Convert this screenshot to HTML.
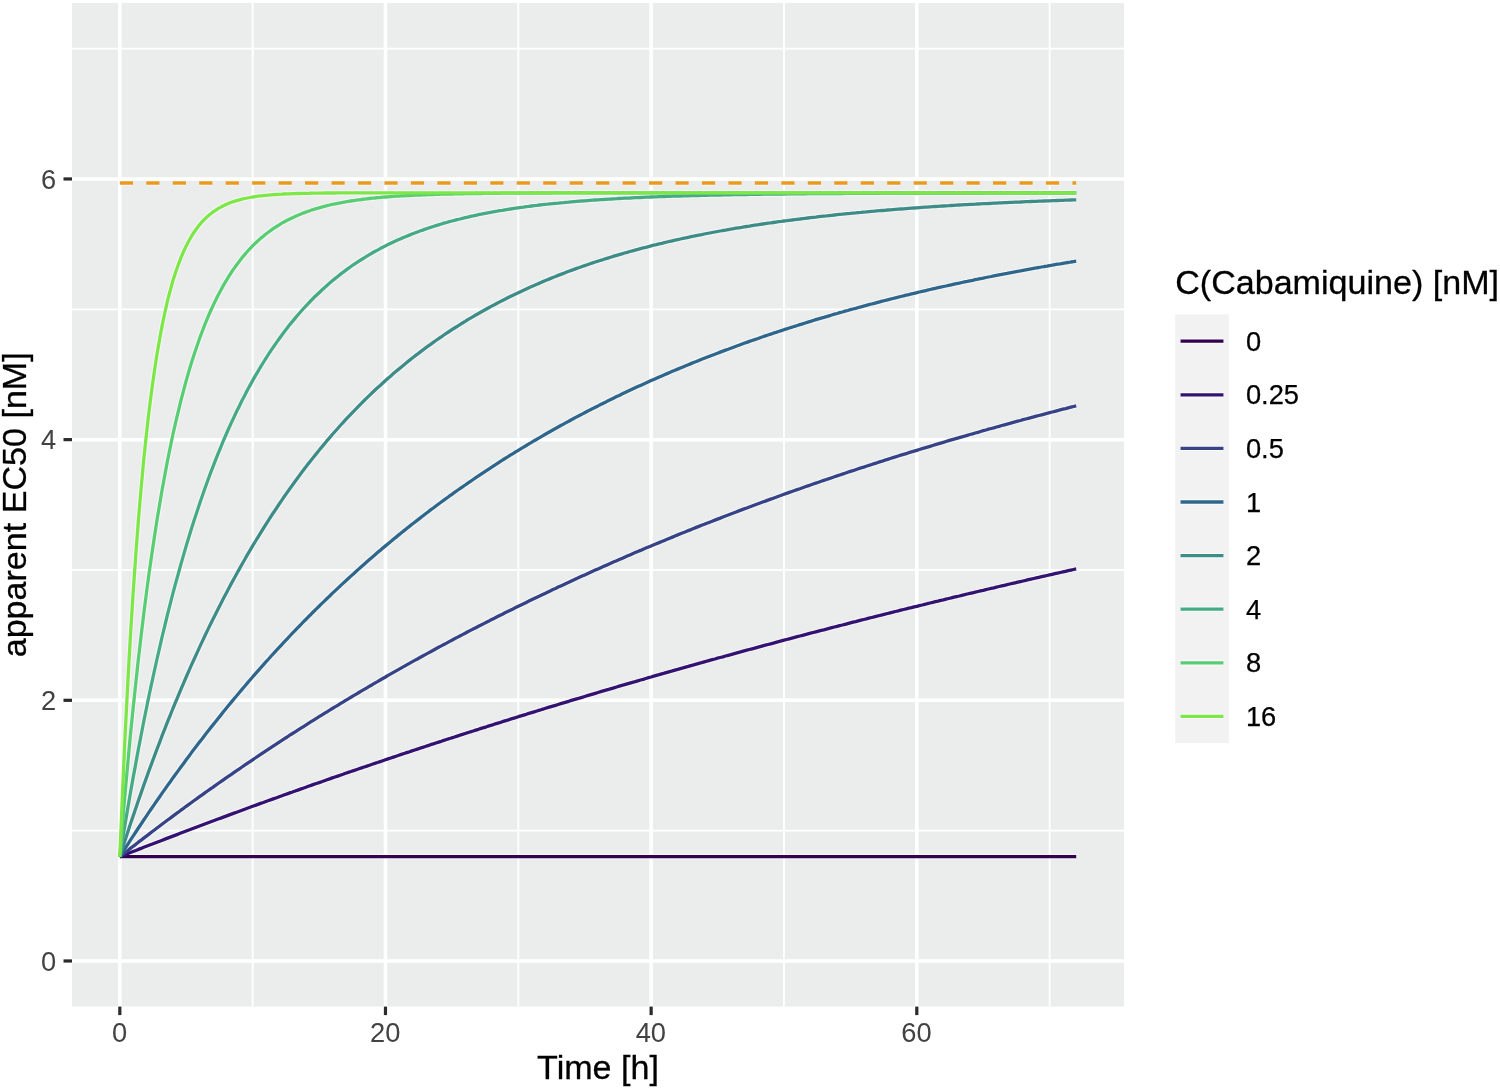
<!DOCTYPE html>
<html lang="en"><head><meta charset="utf-8"><title>apparent EC50 over time</title>
<style>html,body{margin:0;padding:0;background:#fff}body{width:1500px;height:1088px;overflow:hidden}svg{display:block}text{font-family:"Liberation Sans",sans-serif}</style>
</head><body>
<svg width="1500" height="1088" viewBox="0 0 1500 1088">
<rect x="0" y="0" width="1500" height="1088" fill="#ffffff"/>
<rect x="72.0" y="3.0" width="1052.0" height="1003.6" fill="#EBEDEC"/>
<g stroke="#ffffff" stroke-width="1.8" fill="none">
<line x1="72.0" x2="1124.0" y1="830.64" y2="830.64"/>
<line x1="72.0" x2="1124.0" y1="569.97" y2="569.97"/>
<line x1="72.0" x2="1124.0" y1="309.29" y2="309.29"/>
<line x1="72.0" x2="1124.0" y1="48.62" y2="48.62"/>
<line y1="3.0" y2="1006.6" x1="252.65" x2="252.65"/>
<line y1="3.0" y2="1006.6" x1="518.30" x2="518.30"/>
<line y1="3.0" y2="1006.6" x1="783.96" x2="783.96"/>
<line y1="3.0" y2="1006.6" x1="1049.62" x2="1049.62"/>
</g>
<g stroke="#ffffff" stroke-width="3.5" fill="none">
<line x1="72.0" x2="1124.0" y1="960.98" y2="960.98"/>
<line x1="72.0" x2="1124.0" y1="700.31" y2="700.31"/>
<line x1="72.0" x2="1124.0" y1="439.63" y2="439.63"/>
<line x1="72.0" x2="1124.0" y1="178.96" y2="178.96"/>
<line y1="3.0" y2="1006.6" x1="119.82" x2="119.82"/>
<line y1="3.0" y2="1006.6" x1="385.47" x2="385.47"/>
<line y1="3.0" y2="1006.6" x1="651.13" x2="651.13"/>
<line y1="3.0" y2="1006.6" x1="916.79" x2="916.79"/>
</g>
<line x1="119.82" x2="1076.18" y1="183.0" y2="183.0" stroke="#ffffff" stroke-opacity="0.55" stroke-width="5.5" stroke-dasharray="13.23 13.23"/>
<line x1="119.82" x2="1076.18" y1="183.0" y2="183.0" stroke="#EC9A1E" stroke-width="3.5" stroke-dasharray="13.23 13.23"/>
<defs>
<polyline id="c0" points="119.8,856.7 1076.2,856.7"/>
<polyline id="c1" points="119.8,856.7 122.5,855.7 125.1,854.6 127.8,853.6 130.4,852.5 133.1,851.5 135.8,850.5 138.4,849.4 141.1,848.4 143.7,847.3 146.4,846.3 149.0,845.3 151.7,844.3 154.4,843.2 157.0,842.2 159.7,841.2 162.3,840.2 165.0,839.1 167.6,838.1 170.3,837.1 172.9,836.1 175.6,835.1 178.3,834.1 180.9,833.0 183.6,832.0 186.2,831.0 188.9,830.0 191.5,829.0 194.2,828.0 196.9,827.0 199.5,826.0 202.2,825.0 204.8,824.0 207.5,823.0 210.1,822.0 212.8,821.0 215.5,820.0 218.1,819.0 220.8,818.1 223.4,817.1 226.1,816.1 228.7,815.1 231.4,814.1 234.1,813.1 236.7,812.2 239.4,811.2 242.0,810.2 244.7,809.2 247.3,808.3 250.0,807.3 252.6,806.3 255.3,805.4 258.0,804.4 260.6,803.4 263.3,802.5 265.9,801.5 268.6,800.5 271.2,799.6 273.9,798.6 276.6,797.7 279.2,796.7 281.9,795.8 284.5,794.8 287.2,793.9 289.8,792.9 292.5,792.0 295.2,791.0 297.8,790.1 300.5,789.1 303.1,788.2 305.8,787.3 308.4,786.3 311.1,785.4 313.7,784.4 316.4,783.5 319.1,782.6 321.7,781.7 324.4,780.7 327.0,779.8 329.7,778.9 332.3,777.9 335.0,777.0 337.7,776.1 340.3,775.2 343.0,774.3 345.6,773.3 348.3,772.4 350.9,771.5 353.6,770.6 356.3,769.7 358.9,768.8 361.6,767.9 364.2,767.0 366.9,766.1 369.5,765.2 372.2,764.3 374.8,763.4 377.5,762.5 380.2,761.6 382.8,760.7 385.5,759.8 388.1,758.9 390.8,758.0 393.4,757.1 396.1,756.2 398.8,755.3 401.4,754.4 404.1,753.5 406.7,752.6 409.4,751.8 412.0,750.9 414.7,750.0 417.4,749.1 420.0,748.2 422.7,747.4 425.3,746.5 428.0,745.6 430.6,744.7 433.3,743.9 435.9,743.0 438.6,742.1 441.3,741.3 443.9,740.4 446.6,739.5 449.2,738.7 451.9,737.8 454.5,737.0 457.2,736.1 459.9,735.2 462.5,734.4 465.2,733.5 467.8,732.7 470.5,731.8 473.1,731.0 475.8,730.1 478.5,729.3 481.1,728.4 483.8,727.6 486.4,726.8 489.1,725.9 491.7,725.1 494.4,724.2 497.1,723.4 499.7,722.6 502.4,721.7 505.0,720.9 507.7,720.1 510.3,719.2 513.0,718.4 515.6,717.6 518.3,716.7 521.0,715.9 523.6,715.1 526.3,714.3 528.9,713.4 531.6,712.6 534.2,711.8 536.9,711.0 539.6,710.2 542.2,709.3 544.9,708.5 547.5,707.7 550.2,706.9 552.8,706.1 555.5,705.3 558.2,704.5 560.8,703.7 563.5,702.9 566.1,702.1 568.8,701.3 571.4,700.4 574.1,699.6 576.7,698.8 579.4,698.1 582.1,697.3 584.7,696.5 587.4,695.7 590.0,694.9 592.7,694.1 595.3,693.3 598.0,692.5 600.7,691.7 603.3,690.9 606.0,690.1 608.6,689.4 611.3,688.6 613.9,687.8 616.6,687.0 619.3,686.2 621.9,685.4 624.6,684.7 627.2,683.9 629.9,683.1 632.5,682.3 635.2,681.6 637.8,680.8 640.5,680.0 643.2,679.3 645.8,678.5 648.5,677.7 651.1,677.0 653.8,676.2 656.4,675.4 659.1,674.7 661.8,673.9 664.4,673.2 667.1,672.4 669.7,671.6 672.4,670.9 675.0,670.1 677.7,669.4 680.4,668.6 683.0,667.9 685.7,667.1 688.3,666.4 691.0,665.6 693.6,664.9 696.3,664.1 698.9,663.4 701.6,662.7 704.3,661.9 706.9,661.2 709.6,660.4 712.2,659.7 714.9,659.0 717.5,658.2 720.2,657.5 722.9,656.8 725.5,656.0 728.2,655.3 730.8,654.6 733.5,653.8 736.1,653.1 738.8,652.4 741.5,651.7 744.1,650.9 746.8,650.2 749.4,649.5 752.1,648.8 754.7,648.1 757.4,647.3 760.1,646.6 762.7,645.9 765.4,645.2 768.0,644.5 770.7,643.8 773.3,643.1 776.0,642.3 778.6,641.6 781.3,640.9 784.0,640.2 786.6,639.5 789.3,638.8 791.9,638.1 794.6,637.4 797.2,636.7 799.9,636.0 802.6,635.3 805.2,634.6 807.9,633.9 810.5,633.2 813.2,632.5 815.8,631.8 818.5,631.1 821.2,630.4 823.8,629.8 826.5,629.1 829.1,628.4 831.8,627.7 834.4,627.0 837.1,626.3 839.7,625.6 842.4,625.0 845.1,624.3 847.7,623.6 850.4,622.9 853.0,622.2 855.7,621.6 858.3,620.9 861.0,620.2 863.7,619.5 866.3,618.9 869.0,618.2 871.6,617.5 874.3,616.8 876.9,616.2 879.6,615.5 882.3,614.8 884.9,614.2 887.6,613.5 890.2,612.8 892.9,612.2 895.5,611.5 898.2,610.9 900.8,610.2 903.5,609.5 906.2,608.9 908.8,608.2 911.5,607.6 914.1,606.9 916.8,606.3 919.4,605.6 922.1,605.0 924.8,604.3 927.4,603.7 930.1,603.0 932.7,602.4 935.4,601.7 938.0,601.1 940.7,600.4 943.4,599.8 946.0,599.1 948.7,598.5 951.3,597.9 954.0,597.2 956.6,596.6 959.3,596.0 961.9,595.3 964.6,594.7 967.3,594.0 969.9,593.4 972.6,592.8 975.2,592.2 977.9,591.5 980.5,590.9 983.2,590.3 985.9,589.6 988.5,589.0 991.2,588.4 993.8,587.8 996.5,587.1 999.1,586.5 1001.8,585.9 1004.5,585.3 1007.1,584.7 1009.8,584.0 1012.4,583.4 1015.1,582.8 1017.7,582.2 1020.4,581.6 1023.1,581.0 1025.7,580.4 1028.4,579.7 1031.0,579.1 1033.7,578.5 1036.3,577.9 1039.0,577.3 1041.6,576.7 1044.3,576.1 1047.0,575.5 1049.6,574.9 1052.3,574.3 1054.9,573.7 1057.6,573.1 1060.2,572.5 1062.9,571.9 1065.6,571.3 1068.2,570.7 1070.9,570.1 1073.5,569.5 1076.2,568.9"/>
<polyline id="c2" points="119.8,856.7 122.5,854.6 125.1,852.5 127.8,850.5 130.4,848.4 133.1,846.3 135.8,844.3 138.4,842.2 141.1,840.2 143.7,838.1 146.4,836.1 149.0,834.1 151.7,832.0 154.4,830.0 157.0,828.0 159.7,826.0 162.3,824.0 165.0,822.0 167.6,820.0 170.3,818.1 172.9,816.1 175.6,814.1 178.3,812.2 180.9,810.2 183.6,808.3 186.2,806.3 188.9,804.4 191.5,802.5 194.2,800.5 196.9,798.6 199.5,796.7 202.2,794.8 204.8,792.9 207.5,791.0 210.1,789.1 212.8,787.3 215.5,785.4 218.1,783.5 220.8,781.7 223.4,779.8 226.1,777.9 228.7,776.1 231.4,774.3 234.1,772.4 236.7,770.6 239.4,768.8 242.0,767.0 244.7,765.2 247.3,763.4 250.0,761.6 252.6,759.8 255.3,758.0 258.0,756.2 260.6,754.4 263.3,752.6 265.9,750.9 268.6,749.1 271.2,747.4 273.9,745.6 276.6,743.9 279.2,742.1 281.9,740.4 284.5,738.7 287.2,737.0 289.8,735.2 292.5,733.5 295.2,731.8 297.8,730.1 300.5,728.4 303.1,726.8 305.8,725.1 308.4,723.4 311.1,721.7 313.7,720.1 316.4,718.4 319.1,716.7 321.7,715.1 324.4,713.4 327.0,711.8 329.7,710.2 332.3,708.5 335.0,706.9 337.7,705.3 340.3,703.7 343.0,702.1 345.6,700.4 348.3,698.8 350.9,697.3 353.6,695.7 356.3,694.1 358.9,692.5 361.6,690.9 364.2,689.4 366.9,687.8 369.5,686.2 372.2,684.7 374.8,683.1 377.5,681.6 380.2,680.0 382.8,678.5 385.5,677.0 388.1,675.4 390.8,673.9 393.4,672.4 396.1,670.9 398.8,669.4 401.4,667.9 404.1,666.4 406.7,664.9 409.4,663.4 412.0,661.9 414.7,660.4 417.4,659.0 420.0,657.5 422.7,656.0 425.3,654.6 428.0,653.1 430.6,651.7 433.3,650.2 435.9,648.8 438.6,647.3 441.3,645.9 443.9,644.5 446.6,643.1 449.2,641.6 451.9,640.2 454.5,638.8 457.2,637.4 459.9,636.0 462.5,634.6 465.2,633.2 467.8,631.8 470.5,630.4 473.1,629.1 475.8,627.7 478.5,626.3 481.1,625.0 483.8,623.6 486.4,622.2 489.1,620.9 491.7,619.5 494.4,618.2 497.1,616.8 499.7,615.5 502.4,614.2 505.0,612.8 507.7,611.5 510.3,610.2 513.0,608.9 515.6,607.6 518.3,606.3 521.0,605.0 523.6,603.7 526.3,602.4 528.9,601.1 531.6,599.8 534.2,598.5 536.9,597.2 539.6,596.0 542.2,594.7 544.9,593.4 547.5,592.2 550.2,590.9 552.8,589.6 555.5,588.4 558.2,587.1 560.8,585.9 563.5,584.7 566.1,583.4 568.8,582.2 571.4,581.0 574.1,579.7 576.7,578.5 579.4,577.3 582.1,576.1 584.7,574.9 587.4,573.7 590.0,572.5 592.7,571.3 595.3,570.1 598.0,568.9 600.7,567.7 603.3,566.5 606.0,565.4 608.6,564.2 611.3,563.0 613.9,561.8 616.6,560.7 619.3,559.5 621.9,558.4 624.6,557.2 627.2,556.1 629.9,554.9 632.5,553.8 635.2,552.6 637.8,551.5 640.5,550.4 643.2,549.2 645.8,548.1 648.5,547.0 651.1,545.9 653.8,544.8 656.4,543.7 659.1,542.6 661.8,541.5 664.4,540.4 667.1,539.3 669.7,538.2 672.4,537.1 675.0,536.0 677.7,534.9 680.4,533.8 683.0,532.8 685.7,531.7 688.3,530.6 691.0,529.6 693.6,528.5 696.3,527.4 698.9,526.4 701.6,525.3 704.3,524.3 706.9,523.2 709.6,522.2 712.2,521.2 714.9,520.1 717.5,519.1 720.2,518.1 722.9,517.0 725.5,516.0 728.2,515.0 730.8,514.0 733.5,513.0 736.1,512.0 738.8,510.9 741.5,509.9 744.1,508.9 746.8,508.0 749.4,507.0 752.1,506.0 754.7,505.0 757.4,504.0 760.1,503.0 762.7,502.0 765.4,501.1 768.0,500.1 770.7,499.1 773.3,498.2 776.0,497.2 778.6,496.2 781.3,495.3 784.0,494.3 786.6,493.4 789.3,492.4 791.9,491.5 794.6,490.5 797.2,489.6 799.9,488.7 802.6,487.7 805.2,486.8 807.9,485.9 810.5,485.0 813.2,484.0 815.8,483.1 818.5,482.2 821.2,481.3 823.8,480.4 826.5,479.5 829.1,478.6 831.8,477.7 834.4,476.8 837.1,475.9 839.7,475.0 842.4,474.1 845.1,473.2 847.7,472.3 850.4,471.4 853.0,470.6 855.7,469.7 858.3,468.8 861.0,467.9 863.7,467.1 866.3,466.2 869.0,465.3 871.6,464.5 874.3,463.6 876.9,462.8 879.6,461.9 882.3,461.1 884.9,460.2 887.6,459.4 890.2,458.5 892.9,457.7 895.5,456.9 898.2,456.0 900.8,455.2 903.5,454.4 906.2,453.6 908.8,452.7 911.5,451.9 914.1,451.1 916.8,450.3 919.4,449.5 922.1,448.7 924.8,447.9 927.4,447.1 930.1,446.3 932.7,445.5 935.4,444.7 938.0,443.9 940.7,443.1 943.4,442.3 946.0,441.5 948.7,440.7 951.3,439.9 954.0,439.2 956.6,438.4 959.3,437.6 961.9,436.8 964.6,436.1 967.3,435.3 969.9,434.5 972.6,433.8 975.2,433.0 977.9,432.3 980.5,431.5 983.2,430.7 985.9,430.0 988.5,429.2 991.2,428.5 993.8,427.8 996.5,427.0 999.1,426.3 1001.8,425.5 1004.5,424.8 1007.1,424.1 1009.8,423.4 1012.4,422.6 1015.1,421.9 1017.7,421.2 1020.4,420.5 1023.1,419.7 1025.7,419.0 1028.4,418.3 1031.0,417.6 1033.7,416.9 1036.3,416.2 1039.0,415.5 1041.6,414.8 1044.3,414.1 1047.0,413.4 1049.6,412.7 1052.3,412.0 1054.9,411.3 1057.6,410.6 1060.2,409.9 1062.9,409.2 1065.6,408.6 1068.2,407.9 1070.9,407.2 1073.5,406.5 1076.2,405.9"/>
<polyline id="c3" points="119.8,856.7 122.5,852.5 125.1,848.4 127.8,844.3 130.4,840.2 133.1,836.1 135.8,832.0 138.4,828.0 141.1,824.0 143.7,820.0 146.4,816.1 149.0,812.2 151.7,808.3 154.4,804.4 157.0,800.5 159.7,796.7 162.3,792.9 165.0,789.1 167.6,785.4 170.3,781.7 172.9,777.9 175.6,774.3 178.3,770.6 180.9,767.0 183.6,763.4 186.2,759.8 188.9,756.2 191.5,752.6 194.2,749.1 196.9,745.6 199.5,742.1 202.2,738.7 204.8,735.2 207.5,731.8 210.1,728.4 212.8,725.1 215.5,721.7 218.1,718.4 220.8,715.1 223.4,711.8 226.1,708.5 228.7,705.3 231.4,702.1 234.1,698.8 236.7,695.7 239.4,692.5 242.0,689.4 244.7,686.2 247.3,683.1 250.0,680.0 252.6,677.0 255.3,673.9 258.0,670.9 260.6,667.9 263.3,664.9 265.9,661.9 268.6,659.0 271.2,656.0 273.9,653.1 276.6,650.2 279.2,647.3 281.9,644.5 284.5,641.6 287.2,638.8 289.8,636.0 292.5,633.2 295.2,630.4 297.8,627.7 300.5,625.0 303.1,622.2 305.8,619.5 308.4,616.8 311.1,614.2 313.7,611.5 316.4,608.9 319.1,606.3 321.7,603.7 324.4,601.1 327.0,598.5 329.7,596.0 332.3,593.4 335.0,590.9 337.7,588.4 340.3,585.9 343.0,583.4 345.6,581.0 348.3,578.5 350.9,576.1 353.6,573.7 356.3,571.3 358.9,568.9 361.6,566.5 364.2,564.2 366.9,561.8 369.5,559.5 372.2,557.2 374.8,554.9 377.5,552.6 380.2,550.4 382.8,548.1 385.5,545.9 388.1,543.7 390.8,541.5 393.4,539.3 396.1,537.1 398.8,534.9 401.4,532.8 404.1,530.6 406.7,528.5 409.4,526.4 412.0,524.3 414.7,522.2 417.4,520.1 420.0,518.1 422.7,516.0 425.3,514.0 428.0,512.0 430.6,509.9 433.3,508.0 435.9,506.0 438.6,504.0 441.3,502.0 443.9,500.1 446.6,498.2 449.2,496.2 451.9,494.3 454.5,492.4 457.2,490.5 459.9,488.7 462.5,486.8 465.2,485.0 467.8,483.1 470.5,481.3 473.1,479.5 475.8,477.7 478.5,475.9 481.1,474.1 483.8,472.3 486.4,470.6 489.1,468.8 491.7,467.1 494.4,465.3 497.1,463.6 499.7,461.9 502.4,460.2 505.0,458.5 507.7,456.9 510.3,455.2 513.0,453.6 515.6,451.9 518.3,450.3 521.0,448.7 523.6,447.1 526.3,445.5 528.9,443.9 531.6,442.3 534.2,440.7 536.9,439.2 539.6,437.6 542.2,436.1 544.9,434.5 547.5,433.0 550.2,431.5 552.8,430.0 555.5,428.5 558.2,427.0 560.8,425.5 563.5,424.1 566.1,422.6 568.8,421.2 571.4,419.7 574.1,418.3 576.7,416.9 579.4,415.5 582.1,414.1 584.7,412.7 587.4,411.3 590.0,409.9 592.7,408.6 595.3,407.2 598.0,405.9 600.7,404.5 603.3,403.2 606.0,401.9 608.6,400.5 611.3,399.2 613.9,397.9 616.6,396.6 619.3,395.4 621.9,394.1 624.6,392.8 627.2,391.6 629.9,390.3 632.5,389.1 635.2,387.8 637.8,386.6 640.5,385.4 643.2,384.2 645.8,383.0 648.5,381.8 651.1,380.6 653.8,379.4 656.4,378.2 659.1,377.1 661.8,375.9 664.4,374.7 667.1,373.6 669.7,372.5 672.4,371.3 675.0,370.2 677.7,369.1 680.4,368.0 683.0,366.9 685.7,365.8 688.3,364.7 691.0,363.6 693.6,362.5 696.3,361.5 698.9,360.4 701.6,359.3 704.3,358.3 706.9,357.3 709.6,356.2 712.2,355.2 714.9,354.2 717.5,353.2 720.2,352.1 722.9,351.1 725.5,350.1 728.2,349.2 730.8,348.2 733.5,347.2 736.1,346.2 738.8,345.3 741.5,344.3 744.1,343.3 746.8,342.4 749.4,341.4 752.1,340.5 754.7,339.6 757.4,338.7 760.1,337.7 762.7,336.8 765.4,335.9 768.0,335.0 770.7,334.1 773.3,333.2 776.0,332.4 778.6,331.5 781.3,330.6 784.0,329.7 786.6,328.9 789.3,328.0 791.9,327.2 794.6,326.3 797.2,325.5 799.9,324.6 802.6,323.8 805.2,323.0 807.9,322.2 810.5,321.4 813.2,320.5 815.8,319.7 818.5,318.9 821.2,318.1 823.8,317.4 826.5,316.6 829.1,315.8 831.8,315.0 834.4,314.2 837.1,313.5 839.7,312.7 842.4,312.0 845.1,311.2 847.7,310.5 850.4,309.7 853.0,309.0 855.7,308.3 858.3,307.5 861.0,306.8 863.7,306.1 866.3,305.4 869.0,304.7 871.6,304.0 874.3,303.3 876.9,302.6 879.6,301.9 882.3,301.2 884.9,300.5 887.6,299.8 890.2,299.2 892.9,298.5 895.5,297.8 898.2,297.2 900.8,296.5 903.5,295.9 906.2,295.2 908.8,294.6 911.5,293.9 914.1,293.3 916.8,292.7 919.4,292.0 922.1,291.4 924.8,290.8 927.4,290.2 930.1,289.5 932.7,288.9 935.4,288.3 938.0,287.7 940.7,287.1 943.4,286.5 946.0,286.0 948.7,285.4 951.3,284.8 954.0,284.2 956.6,283.6 959.3,283.1 961.9,282.5 964.6,281.9 967.3,281.4 969.9,280.8 972.6,280.3 975.2,279.7 977.9,279.2 980.5,278.6 983.2,278.1 985.9,277.5 988.5,277.0 991.2,276.5 993.8,275.9 996.5,275.4 999.1,274.9 1001.8,274.4 1004.5,273.9 1007.1,273.4 1009.8,272.8 1012.4,272.3 1015.1,271.8 1017.7,271.3 1020.4,270.9 1023.1,270.4 1025.7,269.9 1028.4,269.4 1031.0,268.9 1033.7,268.4 1036.3,267.9 1039.0,267.5 1041.6,267.0 1044.3,266.5 1047.0,266.1 1049.6,265.6 1052.3,265.2 1054.9,264.7 1057.6,264.2 1060.2,263.8 1062.9,263.3 1065.6,262.9 1068.2,262.5 1070.9,262.0 1073.5,261.6 1076.2,261.2"/>
<polyline id="c4" points="119.8,856.7 122.5,848.4 125.1,840.2 127.8,832.0 130.4,824.0 133.1,816.1 135.8,808.3 138.4,800.5 141.1,792.9 143.7,785.4 146.4,777.9 149.0,770.6 151.7,763.4 154.4,756.2 157.0,749.1 159.7,742.1 162.3,735.2 165.0,728.4 167.6,721.7 170.3,715.1 172.9,708.5 175.6,702.1 178.3,695.7 180.9,689.4 183.6,683.1 186.2,677.0 188.9,670.9 191.5,664.9 194.2,659.0 196.9,653.1 199.5,647.3 202.2,641.6 204.8,636.0 207.5,630.4 210.1,625.0 212.8,619.5 215.5,614.2 218.1,608.9 220.8,603.7 223.4,598.5 226.1,593.4 228.7,588.4 231.4,583.4 234.1,578.5 236.7,573.7 239.4,568.9 242.0,564.2 244.7,559.5 247.3,554.9 250.0,550.4 252.6,545.9 255.3,541.5 258.0,537.1 260.6,532.8 263.3,528.5 265.9,524.3 268.6,520.1 271.2,516.0 273.9,512.0 276.6,508.0 279.2,504.0 281.9,500.1 284.5,496.2 287.2,492.4 289.8,488.7 292.5,485.0 295.2,481.3 297.8,477.7 300.5,474.1 303.1,470.6 305.8,467.1 308.4,463.6 311.1,460.2 313.7,456.9 316.4,453.6 319.1,450.3 321.7,447.1 324.4,443.9 327.0,440.7 329.7,437.6 332.3,434.5 335.0,431.5 337.7,428.5 340.3,425.5 343.0,422.6 345.6,419.7 348.3,416.9 350.9,414.1 353.6,411.3 356.3,408.6 358.9,405.9 361.6,403.2 364.2,400.5 366.9,397.9 369.5,395.4 372.2,392.8 374.8,390.3 377.5,387.8 380.2,385.4 382.8,383.0 385.5,380.6 388.1,378.2 390.8,375.9 393.4,373.6 396.1,371.3 398.8,369.1 401.4,366.9 404.1,364.7 406.7,362.5 409.4,360.4 412.0,358.3 414.7,356.2 417.4,354.2 420.0,352.1 422.7,350.1 425.3,348.2 428.0,346.2 430.6,344.3 433.3,342.4 435.9,340.5 438.6,338.7 441.3,336.8 443.9,335.0 446.6,333.2 449.2,331.5 451.9,329.7 454.5,328.0 457.2,326.3 459.9,324.6 462.5,323.0 465.2,321.4 467.8,319.7 470.5,318.1 473.1,316.6 475.8,315.0 478.5,313.5 481.1,312.0 483.8,310.5 486.4,309.0 489.1,307.5 491.7,306.1 494.4,304.7 497.1,303.3 499.7,301.9 502.4,300.5 505.0,299.2 507.7,297.8 510.3,296.5 513.0,295.2 515.6,293.9 518.3,292.7 521.0,291.4 523.6,290.2 526.3,288.9 528.9,287.7 531.6,286.5 534.2,285.4 536.9,284.2 539.6,283.1 542.2,281.9 544.9,280.8 547.5,279.7 550.2,278.6 552.8,277.5 555.5,276.5 558.2,275.4 560.8,274.4 563.5,273.4 566.1,272.3 568.8,271.3 571.4,270.4 574.1,269.4 576.7,268.4 579.4,267.5 582.1,266.5 584.7,265.6 587.4,264.7 590.0,263.8 592.7,262.9 595.3,262.0 598.0,261.2 600.7,260.3 603.3,259.5 606.0,258.6 608.6,257.8 611.3,257.0 613.9,256.2 616.6,255.4 619.3,254.6 621.9,253.8 624.6,253.0 627.2,252.3 629.9,251.5 632.5,250.8 635.2,250.1 637.8,249.4 640.5,248.6 643.2,247.9 645.8,247.3 648.5,246.6 651.1,245.9 653.8,245.2 656.4,244.6 659.1,243.9 661.8,243.3 664.4,242.6 667.1,242.0 669.7,241.4 672.4,240.8 675.0,240.2 677.7,239.6 680.4,239.0 683.0,238.4 685.7,237.9 688.3,237.3 691.0,236.7 693.6,236.2 696.3,235.6 698.9,235.1 701.6,234.6 704.3,234.0 706.9,233.5 709.6,233.0 712.2,232.5 714.9,232.0 717.5,231.5 720.2,231.0 722.9,230.5 725.5,230.1 728.2,229.6 730.8,229.1 733.5,228.7 736.1,228.2 738.8,227.8 741.5,227.4 744.1,226.9 746.8,226.5 749.4,226.1 752.1,225.6 754.7,225.2 757.4,224.8 760.1,224.4 762.7,224.0 765.4,223.6 768.0,223.2 770.7,222.9 773.3,222.5 776.0,222.1 778.6,221.7 781.3,221.4 784.0,221.0 786.6,220.7 789.3,220.3 791.9,220.0 794.6,219.6 797.2,219.3 799.9,219.0 802.6,218.6 805.2,218.3 807.9,218.0 810.5,217.7 813.2,217.4 815.8,217.1 818.5,216.7 821.2,216.4 823.8,216.1 826.5,215.9 829.1,215.6 831.8,215.3 834.4,215.0 837.1,214.7 839.7,214.4 842.4,214.2 845.1,213.9 847.7,213.6 850.4,213.4 853.0,213.1 855.7,212.9 858.3,212.6 861.0,212.4 863.7,212.1 866.3,211.9 869.0,211.6 871.6,211.4 874.3,211.2 876.9,210.9 879.6,210.7 882.3,210.5 884.9,210.3 887.6,210.0 890.2,209.8 892.9,209.6 895.5,209.4 898.2,209.2 900.8,209.0 903.5,208.8 906.2,208.6 908.8,208.4 911.5,208.2 914.1,208.0 916.8,207.8 919.4,207.6 922.1,207.4 924.8,207.2 927.4,207.1 930.1,206.9 932.7,206.7 935.4,206.5 938.0,206.4 940.7,206.2 943.4,206.0 946.0,205.8 948.7,205.7 951.3,205.5 954.0,205.4 956.6,205.2 959.3,205.0 961.9,204.9 964.6,204.7 967.3,204.6 969.9,204.4 972.6,204.3 975.2,204.2 977.9,204.0 980.5,203.9 983.2,203.7 985.9,203.6 988.5,203.5 991.2,203.3 993.8,203.2 996.5,203.1 999.1,202.9 1001.8,202.8 1004.5,202.7 1007.1,202.6 1009.8,202.4 1012.4,202.3 1015.1,202.2 1017.7,202.1 1020.4,202.0 1023.1,201.8 1025.7,201.7 1028.4,201.6 1031.0,201.5 1033.7,201.4 1036.3,201.3 1039.0,201.2 1041.6,201.1 1044.3,201.0 1047.0,200.9 1049.6,200.8 1052.3,200.7 1054.9,200.6 1057.6,200.5 1060.2,200.4 1062.9,200.3 1065.6,200.2 1068.2,200.1 1070.9,200.0 1073.5,199.9 1076.2,199.8"/>
<polyline id="c5" points="119.8,856.7 122.5,840.2 125.1,824.0 127.8,808.3 130.4,792.9 133.1,777.9 135.8,763.4 138.4,749.1 141.1,735.2 143.7,721.7 146.4,708.5 149.0,695.7 151.7,683.1 154.4,670.9 157.0,659.0 159.7,647.3 162.3,636.0 165.0,625.0 167.6,614.2 170.3,603.7 172.9,593.4 175.6,583.4 178.3,573.7 180.9,564.2 183.6,554.9 186.2,545.9 188.9,537.1 191.5,528.5 194.2,520.1 196.9,512.0 199.5,504.0 202.2,496.2 204.8,488.7 207.5,481.3 210.1,474.1 212.8,467.1 215.5,460.2 218.1,453.6 220.8,447.1 223.4,440.7 226.1,434.5 228.7,428.5 231.4,422.6 234.1,416.9 236.7,411.3 239.4,405.9 242.0,400.5 244.7,395.4 247.3,390.3 250.0,385.4 252.6,380.6 255.3,375.9 258.0,371.3 260.6,366.9 263.3,362.5 265.9,358.3 268.6,354.2 271.2,350.1 273.9,346.2 276.6,342.4 279.2,338.7 281.9,335.0 284.5,331.5 287.2,328.0 289.8,324.6 292.5,321.4 295.2,318.1 297.8,315.0 300.5,312.0 303.1,309.0 305.8,306.1 308.4,303.3 311.1,300.5 313.7,297.8 316.4,295.2 319.1,292.7 321.7,290.2 324.4,287.7 327.0,285.4 329.7,283.1 332.3,280.8 335.0,278.6 337.7,276.5 340.3,274.4 343.0,272.3 345.6,270.4 348.3,268.4 350.9,266.5 353.6,264.7 356.3,262.9 358.9,261.2 361.6,259.5 364.2,257.8 366.9,256.2 369.5,254.6 372.2,253.0 374.8,251.5 377.5,250.1 380.2,248.6 382.8,247.3 385.5,245.9 388.1,244.6 390.8,243.3 393.4,242.0 396.1,240.8 398.8,239.6 401.4,238.4 404.1,237.3 406.7,236.2 409.4,235.1 412.0,234.0 414.7,233.0 417.4,232.0 420.0,231.0 422.7,230.1 425.3,229.1 428.0,228.2 430.6,227.4 433.3,226.5 435.9,225.6 438.6,224.8 441.3,224.0 443.9,223.2 446.6,222.5 449.2,221.7 451.9,221.0 454.5,220.3 457.2,219.6 459.9,219.0 462.5,218.3 465.2,217.7 467.8,217.1 470.5,216.4 473.1,215.9 475.8,215.3 478.5,214.7 481.1,214.2 483.8,213.6 486.4,213.1 489.1,212.6 491.7,212.1 494.4,211.6 497.1,211.2 499.7,210.7 502.4,210.3 505.0,209.8 507.7,209.4 510.3,209.0 513.0,208.6 515.6,208.2 518.3,207.8 521.0,207.4 523.6,207.1 526.3,206.7 528.9,206.4 531.6,206.0 534.2,205.7 536.9,205.4 539.6,205.0 542.2,204.7 544.9,204.4 547.5,204.2 550.2,203.9 552.8,203.6 555.5,203.3 558.2,203.1 560.8,202.8 563.5,202.6 566.1,202.3 568.8,202.1 571.4,201.8 574.1,201.6 576.7,201.4 579.4,201.2 582.1,201.0 584.7,200.8 587.4,200.6 590.0,200.4 592.7,200.2 595.3,200.0 598.0,199.8 600.7,199.6 603.3,199.5 606.0,199.3 608.6,199.1 611.3,199.0 613.9,198.8 616.6,198.7 619.3,198.5 621.9,198.4 624.6,198.2 627.2,198.1 629.9,198.0 632.5,197.8 635.2,197.7 637.8,197.6 640.5,197.5 643.2,197.4 645.8,197.2 648.5,197.1 651.1,197.0 653.8,196.9 656.4,196.8 659.1,196.7 661.8,196.6 664.4,196.5 667.1,196.4 669.7,196.3 672.4,196.2 675.0,196.2 677.7,196.1 680.4,196.0 683.0,195.9 685.7,195.8 688.3,195.8 691.0,195.7 693.6,195.6 696.3,195.5 698.9,195.5 701.6,195.4 704.3,195.3 706.9,195.3 709.6,195.2 712.2,195.1 714.9,195.1 717.5,195.0 720.2,195.0 722.9,194.9 725.5,194.9 728.2,194.8 730.8,194.8 733.5,194.7 736.1,194.7 738.8,194.6 741.5,194.6 744.1,194.5 746.8,194.5 749.4,194.4 752.1,194.4 754.7,194.4 757.4,194.3 760.1,194.3 762.7,194.2 765.4,194.2 768.0,194.2 770.7,194.1 773.3,194.1 776.0,194.1 778.6,194.0 781.3,194.0 784.0,194.0 786.6,193.9 789.3,193.9 791.9,193.9 794.6,193.9 797.2,193.8 799.9,193.8 802.6,193.8 805.2,193.8 807.9,193.7 810.5,193.7 813.2,193.7 815.8,193.7 818.5,193.6 821.2,193.6 823.8,193.6 826.5,193.6 829.1,193.6 831.8,193.5 834.4,193.5 837.1,193.5 839.7,193.5 842.4,193.5 845.1,193.4 847.7,193.4 850.4,193.4 853.0,193.4 855.7,193.4 858.3,193.4 861.0,193.3 863.7,193.3 866.3,193.3 869.0,193.3 871.6,193.3 874.3,193.3 876.9,193.3 879.6,193.3 882.3,193.2 884.9,193.2 887.6,193.2 890.2,193.2 892.9,193.2 895.5,193.2 898.2,193.2 900.8,193.2 903.5,193.2 906.2,193.1 908.8,193.1 911.5,193.1 914.1,193.1 916.8,193.1 919.4,193.1 922.1,193.1 924.8,193.1 927.4,193.1 930.1,193.1 932.7,193.1 935.4,193.1 938.0,193.0 940.7,193.0 943.4,193.0 946.0,193.0 948.7,193.0 951.3,193.0 954.0,193.0 956.6,193.0 959.3,193.0 961.9,193.0 964.6,193.0 967.3,193.0 969.9,193.0 972.6,193.0 975.2,193.0 977.9,193.0 980.5,193.0 983.2,193.0 985.9,192.9 988.5,192.9 991.2,192.9 993.8,192.9 996.5,192.9 999.1,192.9 1001.8,192.9 1004.5,192.9 1007.1,192.9 1009.8,192.9 1012.4,192.9 1015.1,192.9 1017.7,192.9 1020.4,192.9 1023.1,192.9 1025.7,192.9 1028.4,192.9 1031.0,192.9 1033.7,192.9 1036.3,192.9 1039.0,192.9 1041.6,192.9 1044.3,192.9 1047.0,192.9 1049.6,192.9 1052.3,192.9 1054.9,192.9 1057.6,192.9 1060.2,192.9 1062.9,192.9 1065.6,192.9 1068.2,192.9 1070.9,192.9 1073.5,192.8 1076.2,192.8"/>
<polyline id="c6" points="119.8,856.7 122.5,824.0 125.1,792.9 127.8,763.4 130.4,735.2 133.1,708.5 135.8,683.1 138.4,659.0 141.1,636.0 143.7,614.2 146.4,593.4 149.0,573.7 151.7,554.9 154.4,537.1 157.0,520.1 159.7,504.0 162.3,488.7 165.0,474.1 167.6,460.2 170.3,447.1 172.9,434.5 175.6,422.6 178.3,411.3 180.9,400.5 183.6,390.3 186.2,380.6 188.9,371.3 191.5,362.5 194.2,354.2 196.9,346.2 199.5,338.7 202.2,331.5 204.8,324.6 207.5,318.1 210.1,312.0 212.8,306.1 215.5,300.5 218.1,295.2 220.8,290.2 223.4,285.4 226.1,280.8 228.7,276.5 231.4,272.3 234.1,268.4 236.7,264.7 239.4,261.2 242.0,257.8 244.7,254.6 247.3,251.5 250.0,248.6 252.6,245.9 255.3,243.3 258.0,240.8 260.6,238.4 263.3,236.2 265.9,234.0 268.6,232.0 271.2,230.1 273.9,228.2 276.6,226.5 279.2,224.8 281.9,223.2 284.5,221.7 287.2,220.3 289.8,219.0 292.5,217.7 295.2,216.4 297.8,215.3 300.5,214.2 303.1,213.1 305.8,212.1 308.4,211.2 311.1,210.3 313.7,209.4 316.4,208.6 319.1,207.8 321.7,207.1 324.4,206.4 327.0,205.7 329.7,205.0 332.3,204.4 335.0,203.9 337.7,203.3 340.3,202.8 343.0,202.3 345.6,201.8 348.3,201.4 350.9,201.0 353.6,200.6 356.3,200.2 358.9,199.8 361.6,199.5 364.2,199.1 366.9,198.8 369.5,198.5 372.2,198.2 374.8,198.0 377.5,197.7 380.2,197.5 382.8,197.2 385.5,197.0 388.1,196.8 390.8,196.6 393.4,196.4 396.1,196.2 398.8,196.1 401.4,195.9 404.1,195.8 406.7,195.6 409.4,195.5 412.0,195.3 414.7,195.2 417.4,195.1 420.0,195.0 422.7,194.9 425.3,194.8 428.0,194.7 430.6,194.6 433.3,194.5 435.9,194.4 438.6,194.3 441.3,194.2 443.9,194.2 446.6,194.1 449.2,194.0 451.9,194.0 454.5,193.9 457.2,193.9 459.9,193.8 462.5,193.8 465.2,193.7 467.8,193.7 470.5,193.6 473.1,193.6 475.8,193.5 478.5,193.5 481.1,193.5 483.8,193.4 486.4,193.4 489.1,193.4 491.7,193.3 494.4,193.3 497.1,193.3 499.7,193.3 502.4,193.2 505.0,193.2 507.7,193.2 510.3,193.2 513.0,193.1 515.6,193.1 518.3,193.1 521.0,193.1 523.6,193.1 526.3,193.1 528.9,193.0 531.6,193.0 534.2,193.0 536.9,193.0 539.6,193.0 542.2,193.0 544.9,193.0 547.5,193.0 550.2,193.0 552.8,192.9 555.5,192.9 558.2,192.9 560.8,192.9 563.5,192.9 566.1,192.9 568.8,192.9 571.4,192.9 574.1,192.9 576.7,192.9 579.4,192.9 582.1,192.9 584.7,192.9 587.4,192.9 590.0,192.9 592.7,192.9 595.3,192.9 598.0,192.8 600.7,192.8 603.3,192.8 606.0,192.8 608.6,192.8 611.3,192.8 613.9,192.8 616.6,192.8 619.3,192.8 621.9,192.8 624.6,192.8 627.2,192.8 629.9,192.8 632.5,192.8 635.2,192.8 637.8,192.8 640.5,192.8 643.2,192.8 645.8,192.8 648.5,192.8 651.1,192.8 653.8,192.8 656.4,192.8 659.1,192.8 661.8,192.8 664.4,192.8 667.1,192.8 669.7,192.8 672.4,192.8 675.0,192.8 677.7,192.8 680.4,192.8 683.0,192.8 685.7,192.8 688.3,192.8 691.0,192.8 693.6,192.8 696.3,192.8 698.9,192.8 701.6,192.8 704.3,192.8 706.9,192.8 709.6,192.8 712.2,192.8 714.9,192.8 717.5,192.8 720.2,192.8 722.9,192.8 725.5,192.8 728.2,192.8 730.8,192.8 733.5,192.8 736.1,192.8 738.8,192.8 741.5,192.8 744.1,192.8 746.8,192.8 749.4,192.8 752.1,192.8 754.7,192.8 757.4,192.8 760.1,192.8 762.7,192.8 765.4,192.8 768.0,192.8 770.7,192.8 773.3,192.8 776.0,192.8 778.6,192.8 781.3,192.8 784.0,192.8 786.6,192.8 789.3,192.8 791.9,192.8 794.6,192.8 797.2,192.8 799.9,192.8 802.6,192.8 805.2,192.8 807.9,192.8 810.5,192.8 813.2,192.8 815.8,192.8 818.5,192.8 821.2,192.8 823.8,192.8 826.5,192.8 829.1,192.8 831.8,192.8 834.4,192.8 837.1,192.8 839.7,192.8 842.4,192.8 845.1,192.8 847.7,192.8 850.4,192.8 853.0,192.8 855.7,192.8 858.3,192.8 861.0,192.8 863.7,192.8 866.3,192.8 869.0,192.8 871.6,192.8 874.3,192.8 876.9,192.8 879.6,192.8 882.3,192.8 884.9,192.8 887.6,192.8 890.2,192.8 892.9,192.8 895.5,192.8 898.2,192.8 900.8,192.8 903.5,192.8 906.2,192.8 908.8,192.8 911.5,192.8 914.1,192.8 916.8,192.8 919.4,192.8 922.1,192.8 924.8,192.8 927.4,192.8 930.1,192.8 932.7,192.8 935.4,192.8 938.0,192.8 940.7,192.8 943.4,192.8 946.0,192.8 948.7,192.8 951.3,192.8 954.0,192.8 956.6,192.8 959.3,192.8 961.9,192.8 964.6,192.8 967.3,192.8 969.9,192.8 972.6,192.8 975.2,192.8 977.9,192.8 980.5,192.8 983.2,192.8 985.9,192.8 988.5,192.8 991.2,192.8 993.8,192.8 996.5,192.8 999.1,192.8 1001.8,192.8 1004.5,192.8 1007.1,192.8 1009.8,192.8 1012.4,192.8 1015.1,192.8 1017.7,192.8 1020.4,192.8 1023.1,192.8 1025.7,192.8 1028.4,192.8 1031.0,192.8 1033.7,192.8 1036.3,192.8 1039.0,192.8 1041.6,192.8 1044.3,192.8 1047.0,192.8 1049.6,192.8 1052.3,192.8 1054.9,192.8 1057.6,192.8 1060.2,192.8 1062.9,192.8 1065.6,192.8 1068.2,192.8 1070.9,192.8 1073.5,192.8 1076.2,192.8"/>
<polyline id="c7" points="119.8,856.7 122.5,792.9 125.1,735.2 127.8,683.1 130.4,636.0 133.1,593.4 135.8,554.9 138.4,520.1 141.1,488.7 143.7,460.2 146.4,434.5 149.0,411.3 151.7,390.3 154.4,371.3 157.0,354.2 159.7,338.7 162.3,324.6 165.0,312.0 167.6,300.5 170.3,290.2 172.9,280.8 175.6,272.3 178.3,264.7 180.9,257.8 183.6,251.5 186.2,245.9 188.9,240.8 191.5,236.2 194.2,232.0 196.9,228.2 199.5,224.8 202.2,221.7 204.8,219.0 207.5,216.4 210.1,214.2 212.8,212.1 215.5,210.3 218.1,208.6 220.8,207.1 223.4,205.7 226.1,204.4 228.7,203.3 231.4,202.3 234.1,201.4 236.7,200.6 239.4,199.8 242.0,199.1 244.7,198.5 247.3,198.0 250.0,197.5 252.6,197.0 255.3,196.6 258.0,196.2 260.6,195.9 263.3,195.6 265.9,195.3 268.6,195.1 271.2,194.9 273.9,194.7 276.6,194.5 279.2,194.3 281.9,194.2 284.5,194.0 287.2,193.9 289.8,193.8 292.5,193.7 295.2,193.6 297.8,193.5 300.5,193.5 303.1,193.4 305.8,193.3 308.4,193.3 311.1,193.2 313.7,193.2 316.4,193.1 319.1,193.1 321.7,193.1 324.4,193.0 327.0,193.0 329.7,193.0 332.3,193.0 335.0,193.0 337.7,192.9 340.3,192.9 343.0,192.9 345.6,192.9 348.3,192.9 350.9,192.9 353.6,192.9 356.3,192.9 358.9,192.8 361.6,192.8 364.2,192.8 366.9,192.8 369.5,192.8 372.2,192.8 374.8,192.8 377.5,192.8 380.2,192.8 382.8,192.8 385.5,192.8 388.1,192.8 390.8,192.8 393.4,192.8 396.1,192.8 398.8,192.8 401.4,192.8 404.1,192.8 406.7,192.8 409.4,192.8 412.0,192.8 414.7,192.8 417.4,192.8 420.0,192.8 422.7,192.8 425.3,192.8 428.0,192.8 430.6,192.8 433.3,192.8 435.9,192.8 438.6,192.8 441.3,192.8 443.9,192.8 446.6,192.8 449.2,192.8 451.9,192.8 454.5,192.8 457.2,192.8 459.9,192.8 462.5,192.8 465.2,192.8 467.8,192.8 470.5,192.8 473.1,192.8 475.8,192.8 478.5,192.8 481.1,192.8 483.8,192.8 486.4,192.8 489.1,192.8 491.7,192.8 494.4,192.8 497.1,192.8 499.7,192.8 502.4,192.8 505.0,192.8 507.7,192.8 510.3,192.8 513.0,192.8 515.6,192.8 518.3,192.8 521.0,192.8 523.6,192.8 526.3,192.8 528.9,192.8 531.6,192.8 534.2,192.8 536.9,192.8 539.6,192.8 542.2,192.8 544.9,192.8 547.5,192.8 550.2,192.8 552.8,192.8 555.5,192.8 558.2,192.8 560.8,192.8 563.5,192.8 566.1,192.8 568.8,192.8 571.4,192.8 574.1,192.8 576.7,192.8 579.4,192.8 582.1,192.8 584.7,192.8 587.4,192.8 590.0,192.8 592.7,192.8 595.3,192.8 598.0,192.8 600.7,192.8 603.3,192.8 606.0,192.8 608.6,192.8 611.3,192.8 613.9,192.8 616.6,192.8 619.3,192.8 621.9,192.8 624.6,192.8 627.2,192.8 629.9,192.8 632.5,192.8 635.2,192.8 637.8,192.8 640.5,192.8 643.2,192.8 645.8,192.8 648.5,192.8 651.1,192.8 653.8,192.8 656.4,192.8 659.1,192.8 661.8,192.8 664.4,192.8 667.1,192.8 669.7,192.8 672.4,192.8 675.0,192.8 677.7,192.8 680.4,192.8 683.0,192.8 685.7,192.8 688.3,192.8 691.0,192.8 693.6,192.8 696.3,192.8 698.9,192.8 701.6,192.8 704.3,192.8 706.9,192.8 709.6,192.8 712.2,192.8 714.9,192.8 717.5,192.8 720.2,192.8 722.9,192.8 725.5,192.8 728.2,192.8 730.8,192.8 733.5,192.8 736.1,192.8 738.8,192.8 741.5,192.8 744.1,192.8 746.8,192.8 749.4,192.8 752.1,192.8 754.7,192.8 757.4,192.8 760.1,192.8 762.7,192.8 765.4,192.8 768.0,192.8 770.7,192.8 773.3,192.8 776.0,192.8 778.6,192.8 781.3,192.8 784.0,192.8 786.6,192.8 789.3,192.8 791.9,192.8 794.6,192.8 797.2,192.8 799.9,192.8 802.6,192.8 805.2,192.8 807.9,192.8 810.5,192.8 813.2,192.8 815.8,192.8 818.5,192.8 821.2,192.8 823.8,192.8 826.5,192.8 829.1,192.8 831.8,192.8 834.4,192.8 837.1,192.8 839.7,192.8 842.4,192.8 845.1,192.8 847.7,192.8 850.4,192.8 853.0,192.8 855.7,192.8 858.3,192.8 861.0,192.8 863.7,192.8 866.3,192.8 869.0,192.8 871.6,192.8 874.3,192.8 876.9,192.8 879.6,192.8 882.3,192.8 884.9,192.8 887.6,192.8 890.2,192.8 892.9,192.8 895.5,192.8 898.2,192.8 900.8,192.8 903.5,192.8 906.2,192.8 908.8,192.8 911.5,192.8 914.1,192.8 916.8,192.8 919.4,192.8 922.1,192.8 924.8,192.8 927.4,192.8 930.1,192.8 932.7,192.8 935.4,192.8 938.0,192.8 940.7,192.8 943.4,192.8 946.0,192.8 948.7,192.8 951.3,192.8 954.0,192.8 956.6,192.8 959.3,192.8 961.9,192.8 964.6,192.8 967.3,192.8 969.9,192.8 972.6,192.8 975.2,192.8 977.9,192.8 980.5,192.8 983.2,192.8 985.9,192.8 988.5,192.8 991.2,192.8 993.8,192.8 996.5,192.8 999.1,192.8 1001.8,192.8 1004.5,192.8 1007.1,192.8 1009.8,192.8 1012.4,192.8 1015.1,192.8 1017.7,192.8 1020.4,192.8 1023.1,192.8 1025.7,192.8 1028.4,192.8 1031.0,192.8 1033.7,192.8 1036.3,192.8 1039.0,192.8 1041.6,192.8 1044.3,192.8 1047.0,192.8 1049.6,192.8 1052.3,192.8 1054.9,192.8 1057.6,192.8 1060.2,192.8 1062.9,192.8 1065.6,192.8 1068.2,192.8 1070.9,192.8 1073.5,192.8 1076.2,192.8"/>
</defs>
<g fill="none" stroke="#ffffff" stroke-opacity="0.55" stroke-width="5.3" stroke-linejoin="round" stroke-linecap="butt">
<use href="#c0"/>
<use href="#c1"/>
<use href="#c2"/>
<use href="#c3"/>
<use href="#c4"/>
<use href="#c5"/>
<use href="#c6"/>
<use href="#c7"/>
</g>
<g fill="none" stroke-width="3.3" stroke-linejoin="round" stroke-linecap="butt">
<use href="#c0" stroke="#33004F"/>
<use href="#c1" stroke="#331272"/>
<use href="#c2" stroke="#364387"/>
<use href="#c3" stroke="#2F678C"/>
<use href="#c4" stroke="#3E8C87"/>
<use href="#c5" stroke="#46AA84"/>
<use href="#c6" stroke="#58CD74"/>
<use href="#c7" stroke="#7EE748"/>
</g>
<g stroke="#2B2B2B" stroke-width="3.2">
<line x1="63.5" x2="72.0" y1="960.98" y2="960.98"/>
<line x1="63.5" x2="72.0" y1="700.31" y2="700.31"/>
<line x1="63.5" x2="72.0" y1="439.63" y2="439.63"/>
<line x1="63.5" x2="72.0" y1="178.96" y2="178.96"/>
<line y1="1006.6" y2="1015.1" x1="119.82" x2="119.82"/>
<line y1="1006.6" y2="1015.1" x1="385.47" x2="385.47"/>
<line y1="1006.6" y2="1015.1" x1="651.13" x2="651.13"/>
<line y1="1006.6" y2="1015.1" x1="916.79" x2="916.79"/>
</g>
<g fill="#424242" font-size="27.3px">
<text transform="translate(56.2 970.58) scale(1 1.03)" text-anchor="end">0</text>
<text transform="translate(56.2 709.91) scale(1 1.03)" text-anchor="end">2</text>
<text transform="translate(56.2 449.23) scale(1 1.03)" text-anchor="end">4</text>
<text transform="translate(56.2 188.56) scale(1 1.03)" text-anchor="end">6</text>
<text transform="translate(119.52 1041.7) scale(1 1.03)" text-anchor="middle">0</text>
<text transform="translate(385.17 1041.7) scale(1 1.03)" text-anchor="middle">20</text>
<text transform="translate(650.83 1041.7) scale(1 1.03)" text-anchor="middle">40</text>
<text transform="translate(916.49 1041.7) scale(1 1.03)" text-anchor="middle">60</text>
</g>
<g fill="#000000" stroke="#000000" stroke-width="0.3" font-size="34.1px">
<text x="598.0" y="1078.7" text-anchor="middle">Time [h]</text>
<text transform="translate(26.4 504.8) rotate(-90)" text-anchor="middle">apparent EC50 [nM]</text>
<text x="1175.2" y="293.8">C(Cabamiquine) [nM]</text>
</g>
<rect x="1175.2" y="314.4" width="53.6" height="428.8" fill="#F2F2F2"/>
<g fill="none">
<line x1="1180.56" x2="1223.44" y1="341.20" y2="341.20" stroke="#ffffff" stroke-opacity="0.7" stroke-width="5.3"/>
<line x1="1180.56" x2="1223.44" y1="341.20" y2="341.20" stroke="#33004F" stroke-width="3.3"/>
<line x1="1180.56" x2="1223.44" y1="394.80" y2="394.80" stroke="#ffffff" stroke-opacity="0.7" stroke-width="5.3"/>
<line x1="1180.56" x2="1223.44" y1="394.80" y2="394.80" stroke="#331272" stroke-width="3.3"/>
<line x1="1180.56" x2="1223.44" y1="448.40" y2="448.40" stroke="#ffffff" stroke-opacity="0.7" stroke-width="5.3"/>
<line x1="1180.56" x2="1223.44" y1="448.40" y2="448.40" stroke="#364387" stroke-width="3.3"/>
<line x1="1180.56" x2="1223.44" y1="502.00" y2="502.00" stroke="#ffffff" stroke-opacity="0.7" stroke-width="5.3"/>
<line x1="1180.56" x2="1223.44" y1="502.00" y2="502.00" stroke="#2F678C" stroke-width="3.3"/>
<line x1="1180.56" x2="1223.44" y1="555.60" y2="555.60" stroke="#ffffff" stroke-opacity="0.7" stroke-width="5.3"/>
<line x1="1180.56" x2="1223.44" y1="555.60" y2="555.60" stroke="#3E8C87" stroke-width="3.3"/>
<line x1="1180.56" x2="1223.44" y1="609.20" y2="609.20" stroke="#ffffff" stroke-opacity="0.7" stroke-width="5.3"/>
<line x1="1180.56" x2="1223.44" y1="609.20" y2="609.20" stroke="#46AA84" stroke-width="3.3"/>
<line x1="1180.56" x2="1223.44" y1="662.80" y2="662.80" stroke="#ffffff" stroke-opacity="0.7" stroke-width="5.3"/>
<line x1="1180.56" x2="1223.44" y1="662.80" y2="662.80" stroke="#58CD74" stroke-width="3.3"/>
<line x1="1180.56" x2="1223.44" y1="716.40" y2="716.40" stroke="#ffffff" stroke-opacity="0.7" stroke-width="5.3"/>
<line x1="1180.56" x2="1223.44" y1="716.40" y2="716.40" stroke="#7EE748" stroke-width="3.3"/>
</g>
<g fill="#000000" stroke="#000000" stroke-width="0.25" font-size="27.3px">
<text x="1245.9" y="350.70">0</text>
<text x="1245.9" y="404.30">0.25</text>
<text x="1245.9" y="457.90">0.5</text>
<text x="1245.9" y="511.50">1</text>
<text x="1245.9" y="565.10">2</text>
<text x="1245.9" y="618.70">4</text>
<text x="1245.9" y="672.30">8</text>
<text x="1245.9" y="725.90">16</text>
</g>
</svg>
</body></html>
